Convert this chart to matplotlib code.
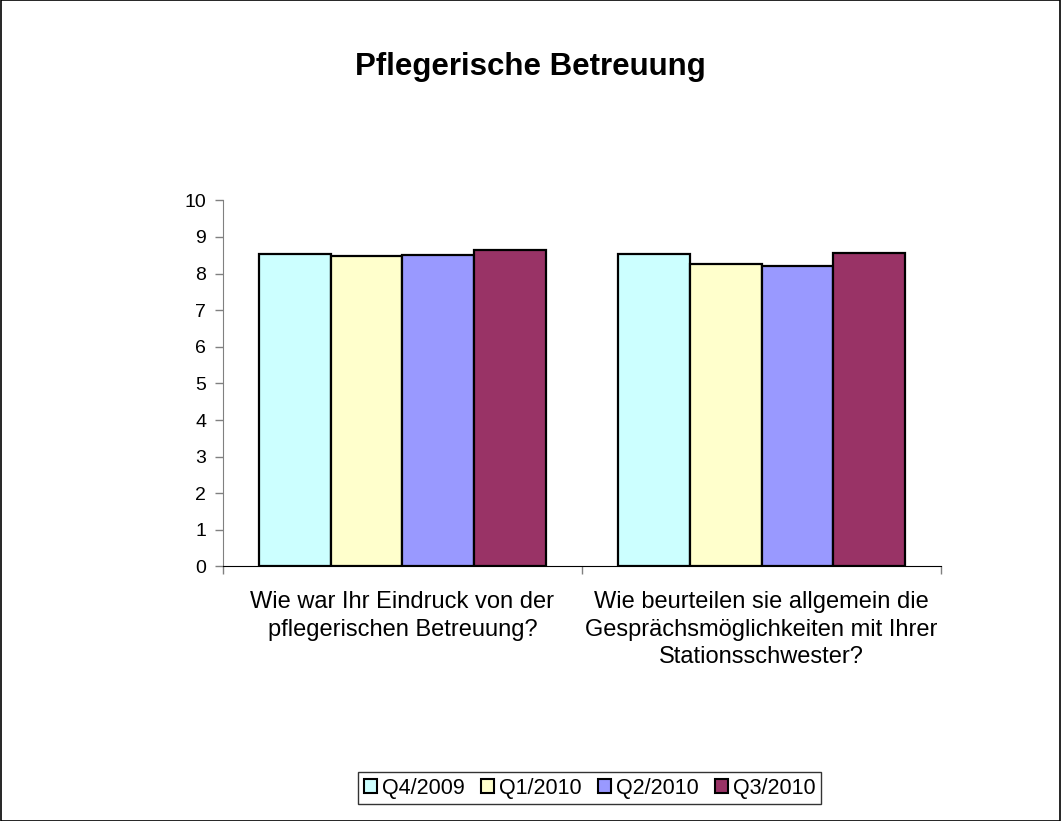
import matplotlib.pyplot as plt
from matplotlib.patches import Patch, Rectangle
from matplotlib.ticker import FixedLocator
import numpy as np

plt.rcParams['font.family'] = ['Liberation Sans', 'DejaVu Sans']

categories = ["Wie war Ihr Eindruck von der\npflegerischen Betreuung?",
              "Wie beurteilen sie allgemein die\nGesprächsmöglichkeiten mit Ihrer\nStationsschwester?"]
series = ["Q4/2009", "Q1/2010", "Q2/2010", "Q3/2010"]
values = [
    [8.54, 8.54],
    [8.47, 8.25],
    [8.52, 8.21],
    [8.65, 8.55],
]
colors = ['#CCFFFF', '#FFFFCC', '#9999FF', '#993366']

fig = plt.figure(figsize=(10.61, 8.21), dpi=100)
ax = fig.add_axes([0.210, 0.310, 0.677, 0.446])

width = 0.2
x = np.arange(len(categories))
for i, (name, vals) in enumerate(zip(series, values)):
    ax.bar(x + (i - 1.5) * width, vals, width, color=colors[i],
           edgecolor='black', linewidth=1.6, label=name, zorder=3)

ax.set_xlim(-0.5, len(categories) - 0.5)
ax.set_ylim(0, 10)
ax.set_yticks(range(0, 11))
ax.tick_params(axis='y', labelsize=14, length=6, width=1, color='#808080', pad=6)

# ticks at category borders, labels at centers
ax.xaxis.set_major_locator(FixedLocator(np.arange(len(categories) + 1) - 0.5))
ax.xaxis.set_minor_locator(FixedLocator(x))
ax.set_xticklabels([], minor=False)
ax.set_xticklabels(categories, minor=True, fontsize=17, linespacing=1.3)
ax.tick_params(axis='x', which='major', length=6, width=1, color='#808080')
ax.tick_params(axis='x', which='minor', length=0, pad=18)

for side in ['top', 'right']:
    ax.spines[side].set_visible(False)
ax.spines['left'].set_color('#808080')
ax.spines['bottom'].set_color('black')

fig.text(0.5, 0.919, "Pflegerische Betreuung", ha='center', va='center',
         fontsize=22.5, fontweight='bold')

handles = [Patch(facecolor=c, edgecolor='black', linewidth=1.5, label=s)
           for c, s in zip(colors, series)]
leg = fig.legend(handles=handles, loc='center', bbox_to_anchor=(0.556, 0.040),
                 ncol=4, fontsize=15.5, frameon=True, fancybox=False,
                 handlelength=0.6, handleheight=0.6, handletextpad=0.25,
                 columnspacing=0.75, borderpad=0.25, borderaxespad=0)
leg.get_frame().set_edgecolor('black')
leg.get_frame().set_linewidth(1)

fig.patches.append(Rectangle((0.0005, 0.0005), 0.999, 0.999, transform=fig.transFigure,
                             fill=False, edgecolor='black', linewidth=1.2))

fig.savefig('out.png', dpi=100)
